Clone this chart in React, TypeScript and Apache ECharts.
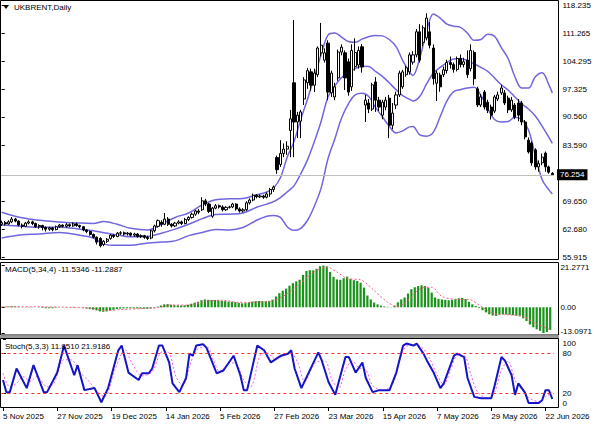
import React, { useEffect, useRef } from 'react';
import * as echarts from 'echarts';

const FONT = '"Liberation Sans", Arial, sans-serif';

// ---------- tick labels ----------
const dateTickLabels = ['5 Nov 2025', '27 Nov 2025', '19 Dec 2025', '14 Jan 2026', '5 Feb 2026', '27 Feb 2026', '23 Mar 2026', '15 Apr 2026', '7 May 2026', '29 May 2026', '22 Jun 2026'];
const TICK_STEP = 16;
const priceTicks = [118.235, 111.265, 104.295, 97.325, 90.56, 83.59, 69.65, 62.68, 55.915];
const priceMin = 55.915;
const priceMax = 118.235;
const lastPrice = 76.254;
const macdTicks = [21.2771, 0, -13.0971];
const stochTicks = [0, 20, 80, 100];
const stochLevels = [80, 20];

// ---------- daily candles [open, close, low, high] ----------
const ohlc: number[][] = [
  [64.0, 64.4, 63.6, 64.9], [64.4, 64.1, 63.7, 64.8], [64.1, 64.6, 63.9, 65.0], [64.6, 65.3, 64.3, 65.8], [65.3, 64.8, 64.5, 65.6],
  [64.8, 63.8, 63.5, 65.0], [63.8, 63.5, 63.0, 64.2], [63.5, 64.3, 63.3, 64.6], [64.3, 64.6, 64.0, 65.0], [64.6, 64.2, 63.8, 64.9],
  [64.2, 63.4, 63.1, 64.4], [63.4, 63.7, 62.9, 64.0], [63.7, 63.2, 62.5, 63.9], [63.2, 62.8, 62.2, 63.5], [62.8, 63.1, 62.4, 63.4],
  [63.1, 62.7, 62.3, 63.3], [62.7, 63.4, 62.5, 63.7], [63.4, 63.8, 63.1, 64.1], [63.8, 63.5, 63.2, 64.0], [63.5, 63.9, 63.2, 64.3],
  [63.9, 63.6, 63.3, 64.2], [63.6, 64.1, 63.4, 64.5], [64.1, 63.7, 63.4, 64.4], [63.7, 63.4, 63.0, 63.9], [63.4, 62.6, 62.3, 63.6],
  [62.6, 62.2, 61.8, 62.8], [62.2, 61.5, 61.2, 62.4], [61.5, 60.8, 60.5, 61.7], [60.8, 59.6, 59.0, 61.0], [60.5, 58.7, 58.3, 60.8],
  [59.0, 59.8, 58.6, 60.1], [59.8, 60.3, 59.4, 60.6], [60.5, 61.3, 60.2, 61.6], [61.3, 61.0, 60.6, 61.6], [61.0, 61.8, 60.8, 62.1],
  [61.8, 61.9, 61.4, 62.3], [61.9, 61.6, 61.2, 62.2], [61.6, 61.8, 61.2, 62.1], [61.8, 61.3, 61.0, 62.0], [61.3, 61.6, 60.9, 61.9],
  [61.6, 61.0, 60.7, 61.8], [61.0, 61.2, 60.6, 61.5], [61.2, 60.8, 60.4, 61.4], [60.8, 60.5, 60.1, 61.2], [60.6, 62.4, 60.3, 62.7],
  [62.4, 63.6, 62.0, 63.9], [63.5, 64.9, 63.2, 65.2], [64.5, 64.0, 63.4, 65.0], [64.0, 65.3, 63.8, 66.8], [65.3, 64.0, 63.6, 65.8],
  [64.0, 63.6, 63.2, 64.3], [63.6, 64.3, 63.3, 64.6], [64.3, 64.6, 64.0, 65.0], [64.6, 64.2, 63.8, 64.9], [64.2, 65.2, 64.0, 65.6],
  [65.2, 65.7, 64.8, 66.0], [65.7, 66.5, 65.4, 66.9], [66.5, 67.3, 66.1, 67.6], [67.3, 67.0, 66.5, 67.8], [67.6, 69.8, 67.3, 70.7],
  [69.8, 69.0, 68.5, 70.3], [69.0, 67.2, 66.8, 69.3], [66.0, 68.0, 65.6, 68.3], [68.0, 68.6, 67.7, 69.0], [68.6, 68.3, 67.9, 68.9],
  [68.3, 67.6, 67.2, 68.7], [67.6, 68.2, 67.3, 68.5], [68.2, 68.3, 67.9, 68.6], [68.3, 69.0, 68.0, 69.3], [69.0, 67.8, 67.4, 69.2],
  [67.8, 67.3, 66.9, 68.2], [67.3, 67.6, 66.9, 68.0], [67.6, 69.3, 67.3, 69.7], [69.3, 70.0, 68.9, 70.4], [70.0, 71.2, 69.7, 71.6],
  [71.2, 70.8, 70.4, 71.5], [70.8, 71.0, 70.5, 71.4], [71.0, 70.7, 70.3, 71.3], [70.7, 71.5, 70.4, 71.9], [71.5, 72.6, 70.8, 73.0],
  [72.6, 73.2, 72.0, 73.6], [80.5, 77.5, 76.5, 81.0], [78.8, 81.5, 78.2, 84.8], [81.5, 82.6, 80.6, 84.0], [82.6, 83.3, 81.2, 84.5],
  [87.2, 90.1, 80.6, 92.3], [99.0, 89.3, 80.6, 114.5], [89.3, 91.0, 85.3, 91.8], [89.5, 91.8, 85.3, 92.3], [95.0, 99.7, 93.5, 100.4],
  [99.0, 102.0, 97.5, 102.7], [101.7, 98.4, 97.0, 102.5], [98.4, 101.4, 96.7, 102.5], [101.0, 107.6, 100.4, 108.0], [106.4, 108.3, 105.5, 113.8],
  [104.6, 106.4, 104.0, 107.5], [108.8, 96.7, 94.7, 109.5], [96.5, 101.4, 95.5, 102.0], [95.5, 98.0, 94.7, 99.0], [100.2, 106.6, 99.5, 107.2],
  [106.6, 107.8, 105.8, 108.5], [106.4, 100.2, 97.2, 107.0], [104.2, 96.7, 95.8, 105.0], [98.0, 107.0, 97.0, 108.5], [103.0, 106.5, 102.0, 110.0],
  [103.4, 107.0, 102.5, 108.0], [107.9, 102.9, 101.5, 108.6], [93.5, 94.7, 89.3, 96.0], [94.0, 92.5, 91.5, 95.0], [92.5, 98.5, 92.0, 99.0],
  [99.2, 94.7, 91.8, 100.4], [94.7, 93.0, 92.0, 95.5], [91.0, 94.2, 90.0, 94.8], [93.0, 94.7, 92.2, 95.5], [95.2, 88.5, 85.3, 96.0],
  [88.5, 91.5, 87.5, 94.0], [93.5, 96.0, 92.5, 96.8], [96.0, 101.4, 95.5, 102.0], [98.0, 101.7, 97.5, 102.2], [101.0, 102.7, 100.5, 103.2],
  [101.7, 105.9, 101.0, 106.5], [104.1, 105.9, 103.5, 106.8], [105.9, 111.6, 105.3, 112.3], [111.6, 104.6, 104.0, 113.5], [109.0, 112.6, 108.0, 113.2],
  [110.1, 115.0, 109.5, 116.2], [111.6, 108.3, 107.5, 114.0], [107.6, 100.0, 98.5, 108.5], [98.9, 101.4, 94.5, 102.0], [100.9, 98.0, 96.8, 101.5],
  [101.0, 102.2, 100.4, 103.0], [102.0, 104.0, 101.3, 104.7], [104.0, 103.5, 102.5, 105.5], [103.5, 102.3, 101.5, 104.0], [102.3, 105.0, 101.8, 105.5],
  [105.0, 103.5, 102.8, 106.0], [103.5, 104.2, 102.8, 105.2], [104.6, 101.0, 100.2, 107.0], [102.5, 107.0, 101.8, 108.5], [106.5, 100.0, 98.4, 107.0],
  [97.5, 93.5, 93.0, 98.0], [93.5, 95.5, 93.0, 96.2], [96.7, 93.0, 92.4, 97.2], [94.2, 92.2, 91.5, 94.8], [93.0, 91.0, 89.9, 93.6],
  [92.0, 95.5, 91.5, 96.0], [95.0, 96.0, 94.5, 96.8], [96.5, 97.7, 96.0, 98.5], [96.5, 94.0, 93.5, 97.2], [95.2, 92.3, 91.5, 95.8],
  [92.3, 94.7, 91.8, 95.5], [93.5, 90.5, 90.0, 94.0], [94.0, 91.0, 89.5, 95.0], [94.0, 89.3, 88.5, 94.5], [89.3, 85.6, 85.0, 89.8],
  [84.8, 81.9, 81.5, 85.5], [84.1, 79.2, 78.5, 84.5], [82.4, 78.2, 77.5, 82.8], [78.2, 79.0, 77.0, 79.8], [79.2, 80.6, 78.6, 81.5],
  [81.6, 78.2, 77.0, 82.0], [78.2, 76.9, 76.5, 78.5], [76.6, 76.254, 76.1, 76.9],
];

// ---------- Bollinger bands, read as [bar index, price] ----------
const bbUpper = [[0, 67.0], [6, 65.6], [11, 65.0], [17, 64.6], [23, 64.3], [27, 64.2], [30, 64.7], [34, 64.0], [38, 63.0], [43, 62.6], [47, 64.0], [51, 65.7], [55, 66.8], [59, 68.8], [63, 70.1], [67, 70.3], [71, 70.4], [75, 71.3], [78, 72.0], [80, 73.0], [82, 75.5], [84, 80.6], [86, 84.5], [88, 90.0], [90, 95.0], [92, 100.5], [94, 106.0], [96, 110.8], [98, 111.3], [100, 110.3], [102, 109.2], [104, 109.0], [106, 109.8], [108, 110.4], [110, 110.7], [112, 110.6], [114, 109.7], [116, 108.0], [118, 104.5], [120, 101.7], [121, 100.8], [123, 105.1], [125, 111.6], [127, 116.0], [129, 115.0], [131, 113.5], [133, 113.0], [135, 112.7], [137, 111.3], [139, 109.5], [141, 109.7], [143, 111.0], [145, 110.5], [147, 107.7], [149, 105.0], [151, 100.5], [153, 97.7], [155, 97.7], [157, 100.5], [159, 101.5], [161, 98.5], [162, 96.5]];
const bbMiddle = [[0, 63.8], [6, 63.5], [11, 63.3], [17, 63.3], [23, 62.8], [27, 62.4], [30, 61.9], [34, 61.4], [38, 60.9], [43, 61.0], [47, 61.8], [51, 62.8], [55, 64.0], [59, 65.4], [63, 66.4], [67, 66.5], [71, 66.8], [75, 68.2], [78, 69.0], [80, 69.6], [82, 70.6], [84, 72.0], [86, 73.5], [88, 76.5], [90, 80.0], [92, 84.5], [94, 89.5], [96, 95.5], [98, 98.2], [100, 100.3], [102, 101.5], [104, 102.5], [106, 103.1], [108, 103.0], [110, 101.8], [112, 100.6], [114, 99.0], [116, 97.3], [118, 95.8], [120, 94.9], [121, 94.5], [123, 95.6], [125, 98.7], [127, 101.4], [129, 102.8], [131, 104.0], [133, 104.9], [135, 105.0], [137, 104.5], [139, 103.7], [141, 102.8], [143, 101.8], [145, 100.2], [147, 98.5], [149, 97.2], [151, 95.5], [153, 93.8], [155, 92.5], [157, 90.8], [159, 88.3], [161, 85.5], [162, 84.0]];
const bbLower = [[0, 60.6], [6, 61.4], [11, 61.6], [17, 62.0], [23, 61.3], [27, 60.6], [30, 59.1], [34, 58.8], [38, 58.8], [43, 59.4], [47, 59.6], [51, 59.9], [55, 61.2], [59, 62.0], [63, 62.7], [67, 62.6], [71, 63.2], [75, 65.0], [78, 66.0], [80, 66.2], [82, 65.7], [84, 63.4], [86, 62.5], [88, 63.0], [90, 65.0], [92, 68.5], [94, 73.0], [96, 80.2], [98, 85.1], [100, 90.3], [102, 93.8], [104, 96.0], [106, 96.4], [108, 95.6], [110, 92.9], [112, 90.6], [114, 88.3], [116, 86.6], [118, 87.1], [120, 88.1], [121, 88.2], [123, 86.1], [125, 85.8], [127, 86.8], [129, 90.6], [131, 94.5], [133, 96.8], [135, 97.3], [137, 97.7], [139, 97.9], [141, 95.9], [143, 92.6], [145, 89.9], [147, 89.3], [149, 89.4], [151, 90.5], [153, 89.9], [155, 87.3], [157, 81.1], [159, 75.1], [161, 72.5], [162, 71.5]];

// ---------- MACD(5,34,4) ----------
const macdHist = [
  0.3, 0.3, 0.4, 0.5, 0.5, 0.3, 0.1, 0.1, 0.2, 0.2, 0.0, -0.1, -0.3, -0.5, -0.5, -0.5, -0.3, -0.1, 0.0, 0.1,
  0.1, 0.2, 0.1, -0.1, -0.3, -0.6, -0.9, -1.2, -1.6, -2.1, -2.3, -2.1, -1.7, -1.3, -0.9, -0.7, -0.6, -0.5, -0.5, -0.6,
  -0.6, -0.7, -0.7, -0.8, -0.6, -0.3, 0.3, 0.9, 1.5, 1.6, 1.3, 1.1, 1.0, 0.9, 1.0, 1.3, 1.8, 2.4, 2.8, 3.6,
  4.0, 3.8, 3.7, 3.7, 3.6, 3.3, 3.1, 2.9, 2.8, 2.6, 2.2, 2.0, 2.1, 2.5, 2.9, 3.1, 3.2, 3.1, 3.1, 3.3,
  3.9, 5.5, 7.2, 8.5, 9.5, 11.0, 12.3, 13.2, 14.0, 16.5, 18.5, 18.9, 18.8, 19.6, 20.9, 21.2771, 20.8, 18.0, 15.5, 14.2,
  14.0, 14.8, 15.6, 14.5, 13.8, 13.4, 12.5, 10.0, 6.0, 4.0, 2.4, 1.5, 0.8, 0.4, 0.2, 0.1, 0.6, 2.5, 4.0, 5.0,
  7.0, 9.2, 10.2, 10.8, 11.2, 10.8, 9.8, 7.5, 5.0, 4.3, 4.0, 3.8, 3.6, 3.8, 4.2, 4.6, 4.8, 4.2, 2.8, 1.5,
  0.6, -0.4, -1.5, -2.6, -3.6, -4.2, -4.4, -3.8, -3.6, -3.7, -3.8, -4.0, -4.3, -4.6, -5.6, -7.0, -8.8, -10.2, -11.2, -12.0,
  -13.0971, -12.6, -11.5346,
];
const macdSignal = [[0, 0.2], [10, 0.3], [20, 0.0], [27, -0.6], [31, -1.8], [35, -1.2], [42, -0.6], [46, -0.3], [50, 1.2], [55, 1.1], [60, 3.0], [65, 3.6], [70, 2.5], [75, 2.6], [80, 3.2], [84, 6.5], [88, 12.0], [92, 17.8], [96, 20.5], [99, 18.0], [102, 14.6], [106, 14.0], [110, 8.5], [114, 2.5], [117, 0.5], [120, 3.5], [124, 9.8], [127, 10.2], [130, 5.5], [135, 4.0], [138, 4.0], [141, 1.2], [145, -3.0], [150, -3.9], [154, -4.6], [158, -8.5], [162, -11.2887]];

// ---------- Stochastic(5,3,3) ----------
const stochMain = [[0, 40], [1, 22], [2, 22], [4, 57], [7, 28], [9, 62], [12, 22], [13, 22], [16, 51], [18, 91], [21, 47], [22, 62], [24, 25], [27, 28], [29, 7], [31, 28], [34, 84], [35, 91], [37, 51], [40, 40], [41, 50], [43, 50], [44, 57], [46, 91], [47, 91], [49, 66], [50, 35], [52, 22], [54, 43], [55, 79], [56, 76], [57, 91], [59, 93], [60, 88], [63, 50], [65, 54], [68, 76], [70, 47], [71, 25], [72, 25], [75, 91], [77, 84], [79, 66], [82, 76], [84, 79], [85, 84], [86, 57], [88, 28], [93, 81], [94, 69], [96, 37], [98, 18], [99, 37], [101, 74], [102, 74], [104, 51], [106, 66], [107, 43], [109, 22], [111, 25], [114, 25], [116, 51], [118, 91], [119, 94], [121, 91], [122, 94], [124, 79], [125, 69], [127, 51], [129, 28], [130, 35], [133, 76], [134, 79], [136, 74], [137, 43], [139, 15], [141, 13], [144, 13], [145, 32], [147, 74], [148, 69], [150, 47], [151, 18], [152, 35], [154, 21], [155, 6], [158, 6], [159, 10], [160, 25], [161, 25], [162, 11.851]];
const stochSignal = [[0, 50], [2, 30], [4, 35], [6, 45], [8, 38], [10, 45], [13, 30], [15, 35], [18, 70], [20, 70], [23, 50], [25, 40], [28, 22], [30, 15], [33, 55], [36, 85], [38, 65], [41, 46], [44, 52], [47, 82], [49, 80], [51, 45], [53, 32], [55, 60], [57, 84], [60, 90], [62, 70], [64, 52], [67, 66], [69, 62], [71, 40], [73, 30], [76, 78], [78, 80], [80, 72], [83, 76], [85, 80], [87, 65], [89, 38], [92, 65], [95, 68], [97, 40], [99, 28], [101, 55], [103, 68], [105, 58], [107, 55], [109, 32], [112, 24], [115, 35], [117, 70], [119, 90], [122, 92], [124, 86], [126, 70], [128, 48], [130, 33], [132, 55], [134, 76], [136, 76], [138, 48], [140, 22], [143, 13], [145, 22], [147, 55], [149, 68], [151, 40], [153, 26], [155, 14], [158, 8], [160, 15], [162, 21.9186]];

// ---------- calendar (trading days, exchange holidays skipped) ----------
const holidays = ['2025-12-25', '2026-01-01', '2026-04-03'];
function tradingDays(start: string, count: number): string[] {
  const out: string[] = [];
  const d = new Date(start + 'T00:00:00Z');
  while (out.length < count) {
    const iso = d.toISOString().slice(0, 10);
    const wd = d.getUTCDay();
    if (wd !== 0 && wd !== 6 && holidays.indexOf(iso) < 0) out.push(iso);
    d.setUTCDate(d.getUTCDate() + 1);
  }
  return out;
}
const categories = tradingDays('2025-11-05', ohlc.length);

const BB_COLOR = '#6f66e0';
const N = ohlc.length;
const isTick = (i: number) => i % TICK_STEP === 0;

function buildOption() {
  const axisText = { fontSize: 8, fontFamily: FONT, color: '#000' };
  const rightAxisBase = {
    position: 'right' as const,
    offset: 4.5,
    axisLine: { show: false },
    splitLine: { show: false },
  };
  const last = (arr: number[][]) => arr[arr.length - 1][1];
  return {
    animation: false,
    backgroundColor: '#ffffff',
    textStyle: { fontFamily: FONT },
    grid: [
      { left: 0, top: 5, width: 554, height: 252 },
      { left: 0, top: 265.5, width: 554, height: 67.5 },
      { left: 0, top: 339.5, width: 554, height: 67.5 },
    ],
    xAxis: [
      { type: 'category', gridIndex: 0, data: categories, show: false },
      { type: 'value', gridIndex: 0, min: -0.5, max: N - 0.5, show: false },
      { type: 'category', gridIndex: 1, data: categories, show: false },
      { type: 'value', gridIndex: 1, min: -0.5, max: N - 0.5, show: false },
      {
        type: 'category', gridIndex: 2, data: categories,
        axisLine: { show: false },
        splitLine: { show: false },
        axisTick: { show: true, interval: isTick, alignWithLabel: true, length: 4, lineStyle: { color: '#000' } },
        axisLabel: {
          ...axisText, interval: isTick, align: 'left', margin: 5,
          formatter: (_v: string, i: number) => dateTickLabels[i / TICK_STEP] ?? '',
        },
      },
      { type: 'value', gridIndex: 2, min: -0.5, max: N - 0.5, show: false },
    ],
    yAxis: [
      {
        ...rightAxisBase, type: 'value', gridIndex: 0, min: priceMin, max: priceMax,
        axisTick: { show: true, customValues: priceTicks, length: 3, lineStyle: { color: '#000' } },
        axisLabel: { ...axisText, customValues: priceTicks, margin: 4, formatter: (v: number) => v.toFixed(3) },
      },
      {
        ...rightAxisBase, type: 'value', gridIndex: 1, min: macdTicks[2], max: macdTicks[0],
        axisTick: { show: true, customValues: macdTicks, length: 3, lineStyle: { color: '#000' } },
        axisLabel: {
          ...axisText, customValues: macdTicks, margin: 4,
          formatter: (v: number) => (v === 0 ? '0.00' : v > 0 ? '{d|' + v.toFixed(4) + '}' : '{u|' + v.toFixed(4) + '}'),
          rich: { d: { ...axisText, padding: [4, 0, 0, 0] }, u: { ...axisText, padding: [0, 0, 4, 0] } },
        },
      },
      {
        ...rightAxisBase, type: 'value', gridIndex: 2, min: 0, max: 100,
        axisTick: { show: true, customValues: stochTicks, length: 3, lineStyle: { color: '#000' } },
        axisLabel: {
          ...axisText, customValues: stochTicks, margin: 4,
          formatter: (v: number) => (v === 100 ? '{d|100}' : v === 0 ? '{u|0}' : String(v)),
          rich: { d: { ...axisText, padding: [7, 0, 0, 0] }, u: { ...axisText, padding: [0, 0, 7, 0] } },
        },
      },
    ],
    series: [
      {
        type: 'candlestick', name: 'UKBRENT', xAxisIndex: 0, yAxisIndex: 0, data: ohlc, barWidth: 2.6,
        itemStyle: { color: '#ffffff', color0: '#000000', borderColor: '#000000', borderColor0: '#000000', borderWidth: 1 },
        markLine: {
          silent: true, symbol: ['none', 'none'], animation: false,
          data: [{ yAxis: lastPrice }],
          lineStyle: { color: '#bdbdbd', width: 1, type: 'solid' },
          label: {
            show: true, position: 'end', formatter: lastPrice.toFixed(3), distance: 3,
            color: '#ffffff', backgroundColor: '#000000', padding: [2, 3, 1, 3], fontSize: 8, fontFamily: FONT,
          },
        },
        z: 3,
      },
      { type: 'line', name: 'BB upper', xAxisIndex: 1, yAxisIndex: 0, data: bbUpper, smooth: 0.35, symbol: 'none', lineStyle: { color: BB_COLOR, width: 1.5 }, z: 2 },
      { type: 'line', name: 'BB middle', xAxisIndex: 1, yAxisIndex: 0, data: bbMiddle, smooth: 0.35, symbol: 'none', lineStyle: { color: BB_COLOR, width: 1.5 }, z: 2 },
      { type: 'line', name: 'BB lower', xAxisIndex: 1, yAxisIndex: 0, data: bbLower, smooth: 0.35, symbol: 'none', lineStyle: { color: BB_COLOR, width: 1.5 }, z: 2 },
      { type: 'bar', name: 'MACD', xAxisIndex: 2, yAxisIndex: 1, data: macdHist, barWidth: 2.2, itemStyle: { color: '#1a931a' } },
      { type: 'line', name: 'Signal', xAxisIndex: 3, yAxisIndex: 1, data: macdSignal, smooth: 0.3, symbol: 'none', lineStyle: { color: '#ff5c8d', width: 1, type: [2, 2] }, z: 3 },
      {
        type: 'line', name: 'Stoch signal', xAxisIndex: 5, yAxisIndex: 2, data: stochSignal, smooth: 0.3, symbol: 'none',
        lineStyle: { color: '#ff55ee', width: 1, type: [2, 2] }, z: 2,
        markLine: {
          silent: true, symbol: ['none', 'none'], animation: false,
          data: stochLevels.map((v) => ({ yAxis: v })),
          lineStyle: { color: '#ff3030', width: 1, type: [3, 3] },
          label: { show: false },
        },
      },
      { type: 'line', name: 'Stoch main', xAxisIndex: 5, yAxisIndex: 2, data: stochMain, symbol: 'none', lineStyle: { color: '#1414c8', width: 2 }, z: 4 },
    ],
    graphic: [
      { type: 'rect', silent: true, z: 100, shape: { x: 0.5, y: 0.5, width: 558, height: 259 }, style: { fill: 'none', stroke: '#000', lineWidth: 1 } },
      { type: 'rect', silent: true, z: 100, shape: { x: 0.5, y: 262.5, width: 558, height: 72.5 }, style: { fill: 'none', stroke: '#000', lineWidth: 1 } },
      { type: 'rect', silent: true, z: 100, shape: { x: 0, y: 335.5, width: 559, height: 2.5 }, style: { fill: '#9a9a9a' } },
      { type: 'rect', silent: true, z: 100, shape: { x: 0.5, y: 338.5, width: 558, height: 69 }, style: { fill: 'none', stroke: '#000', lineWidth: 1 } },
      { type: 'polygon', silent: true, z: 100, shape: { points: [[3, 5], [9, 5], [6, 9]] }, style: { fill: '#000' } },
      { type: 'text', silent: true, z: 100, x: 14, y: 7, style: { text: 'UKBRENT,Daily', fontSize: 8, fontFamily: FONT, fill: '#000', verticalAlign: 'middle' } },
      {
        type: 'text', silent: true, z: 100, x: 5, y: 269,
        style: { text: `MACD(5,34,4) ${macdHist[N - 1].toFixed(4)} ${last(macdSignal).toFixed(4)}`, fontSize: 8, fontFamily: FONT, fill: '#000', verticalAlign: 'middle' },
      },
      {
        type: 'text', silent: true, z: 100, x: 5, y: 346,
        style: { text: `Stoch(5,3,3) ${last(stochMain).toFixed(4)} ${last(stochSignal).toFixed(4)}`, fontSize: 8, fontFamily: FONT, fill: '#000', verticalAlign: 'middle' },
      },
    ],
  };
}

export default function App() {
  const ref = useRef<HTMLDivElement>(null);
  useEffect(() => {
    if (!ref.current) return;
    const chart = echarts.init(ref.current, undefined, { renderer: 'svg' });
    chart.setOption(buildOption() as any);
    return () => chart.dispose();
  }, []);
  return <div ref={ref} style={{ position: 'absolute', left: 0, top: 0, width: 595, height: 425, background: '#fff' }} />;
}
